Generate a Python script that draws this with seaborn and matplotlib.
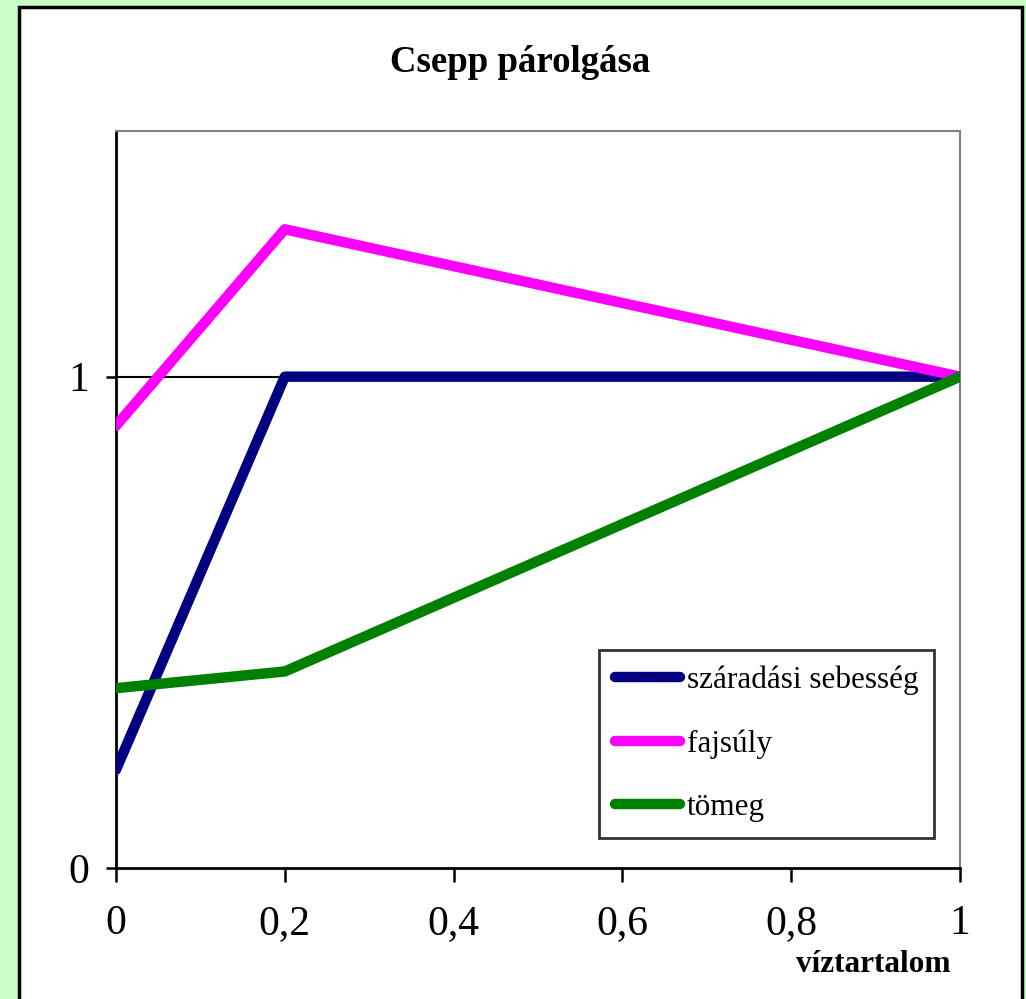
import numpy as np
import pandas as pd
import matplotlib
matplotlib.use("Agg")
import matplotlib.pyplot as plt
import matplotlib.patches as mpatches
import seaborn as sns

# Adatok
viztartalom = [0, 0.2, 1]
szaradasi_sebesseg = [0.2, 1.0, 1.0]
fajsuly = [0.9, 1.3, 1.0]
tomeg = [0.366, 0.40, 1.0]

series_names = ["száradási sebesség", "fajsúly", "tömeg"]
series_colors = ["#000080", "#FF00FF", "#008000"]
x_ticks = [0, 0.2, 0.4, 0.6, 0.8, 1]
x_tick_labels = ["0", "0,2", "0,4", "0,6", "0,8", "1"]
y_ticks = [0, 1]
y_tick_labels = ["0", "1"]

df = pd.DataFrame({
    "víztartalom": viztartalom * 3,
    "érték": szaradasi_sebesseg + fajsuly + tomeg,
    "sorozat": [n for n in series_names for _ in viztartalom],
})

sns.set_style("white")
plt.rcParams["font.family"] = ["Liberation Serif", "DejaVu Serif"]
plt.rcParams["text.color"] = "black"
plt.rcParams["xtick.color"] = "black"
plt.rcParams["ytick.color"] = "black"

fig = plt.figure(figsize=(10.26, 9.99), dpi=100)
fig.patch.set_facecolor("#C8FFC8")

# fehér panel fekete kerettel
panel = mpatches.Rectangle((19 / 1026, -0.02), (1022 - 19) / 1026, 1.02 - 7 / 999,
                           transform=fig.transFigure, facecolor="white",
                           edgecolor="black", linewidth=2.5, zorder=-10)
fig.patches.append(panel)

ax = fig.add_axes([116 / 1026, 1 - 868 / 999, (960 - 116) / 1026, (868 - 131) / 999])
ax.set_facecolor("white")

sns.lineplot(data=df, x="víztartalom", y="érték", hue="sorozat",
             palette=dict(zip(series_names, series_colors)),
             hue_order=series_names, linewidth=7.5, ax=ax, legend=False,
             zorder=3)

ax.axhline(1, color="black", linewidth=1.5, zorder=1)

ax.set_xlim(0, 1)
ax.set_ylim(0, 1.5)
ax.set_xticks(x_ticks)
ax.set_xticklabels(x_tick_labels)
ax.set_yticks(y_ticks)
ax.set_yticklabels(y_tick_labels)
ax.tick_params(axis="x", direction="out", length=10, width=1.8, pad=16,
               labelsize=30, bottom=True, color="black", labelcolor="black")
ax.tick_params(axis="y", direction="out", length=7.5, width=1.8, pad=12,
               labelsize=30, left=True, color="black", labelcolor="black")
ax.set_xlabel("")
ax.set_ylabel("")

for side in ["left", "bottom"]:
    ax.spines[side].set_color("black")
    ax.spines[side].set_linewidth(2)
for side in ["top", "right"]:
    ax.spines[side].set_color("#808080")
    ax.spines[side].set_linewidth(1.5)
    ax.spines[side].set_visible(True)

handles = [plt.Line2D([0], [0], color=c, linewidth=7.5, solid_capstyle="round")
           for c in series_colors]
leg = ax.legend(handles, series_names, loc="upper left",
                bbox_to_anchor=((599 - 116) / 844, 1 - (650 - 131) / 737),
                frameon=True, fancybox=False, fontsize=22.5,
                handlelength=2.1, handletextpad=0.22, labelspacing=1.1,
                borderpad=0.5, borderaxespad=0)
leg.get_frame().set_edgecolor("black")
leg.get_frame().set_linewidth(2)
for t in leg.get_texts():
    t.set_color("black")

fig.text(0.507, 1 - 63 / 999, "Csepp párolgása", ha="center", va="center",
         fontsize=26.5, fontweight="bold", color="black")
fig.text(950 / 1026, 1 - 965 / 999, "víztartalom", ha="right", va="center",
         fontsize=22.5, fontweight="bold", color="black")

fig.savefig("out.png", dpi=100, facecolor=fig.get_facecolor())
